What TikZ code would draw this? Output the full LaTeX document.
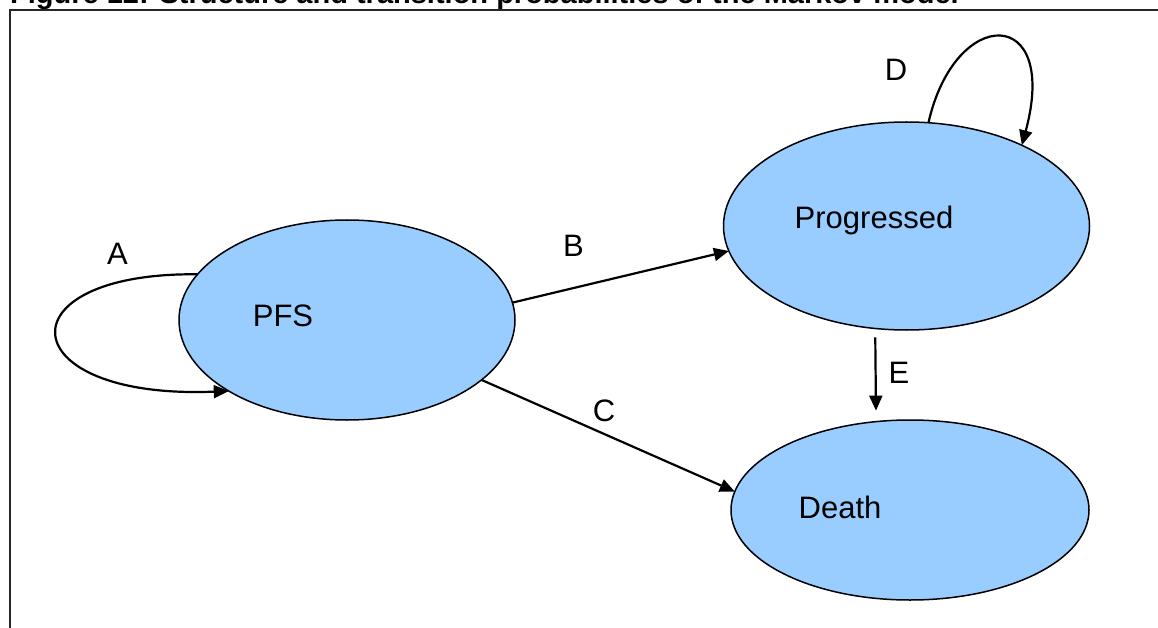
\documentclass[tikz,border=0pt]{standalone}
\usepackage{fontspec}
\setmainfont{Liberation Sans}
\usetikzlibrary{shapes.geometric,arrows.meta}
\definecolor{stateblue}{HTML}{99CCFF}
\begin{document}
\begin{tikzpicture}[x=1pt,y=-1pt,>={Triangle[length=15pt,width=13pt]},
  state/.style={draw,line width=1.5pt,fill=stateblue,ellipse,inner sep=0pt,outer sep=0pt},
  lbl/.style={anchor=base,font=\fontsize{31}{37}\selectfont,inner sep=0pt},
  trans/.style={->,line width=2.2pt}]
\useasboundingbox (0,0) rectangle (1158,628);
\clip (0,0) rectangle (1158,628);
\node (title) [anchor=base west,inner sep=0pt,font=\bfseries\fontsize{29}{34}\selectfont] at (10,4) {Figure 12: Structure and transition probabilities of the Markov model};
\draw[line width=2.5pt,black!85] (10,660) -- (10,10) -- (1180,10);
\node (pfs) [state,minimum width=336pt,minimum height=200pt] at (347,320) {};
\node (prog) [state,minimum width=366pt,minimum height=208pt] at (906.5,226) {};
\node (death) [state,minimum width=358pt,minimum height=180pt] at (910,510) {};
\node (pfstxt) [lbl] at (283,326) {PFS};
\node (progtxt) [lbl] at (874,229) {Progressed};
\node (deathtxt) [lbl] at (840,518) {Death};
\draw[trans] (pfs.163.7) .. controls (0,272) and (10,400) .. (pfs.211.6);
\draw[trans] (prog.78.7) .. controls (955,5) and (1060,5) .. (prog.35.9);
\draw[trans] (pfs.6.2) -- (prog.188);
\draw[trans] (pfs.336.2) -- (death.174.5);
\draw[trans,shorten <=9pt,shorten >=11pt] (prog.253.4) -- (death.111);
\node (a) [lbl] at (117.5,264) {A};
\node (b) [lbl] at (573.5,257) {B};
\node (c) [lbl] at (604,421) {C};
\node (d) [lbl] at (896,81) {D};
\node (e) [lbl] at (899,383) {E};
\end{tikzpicture}
\end{document}
